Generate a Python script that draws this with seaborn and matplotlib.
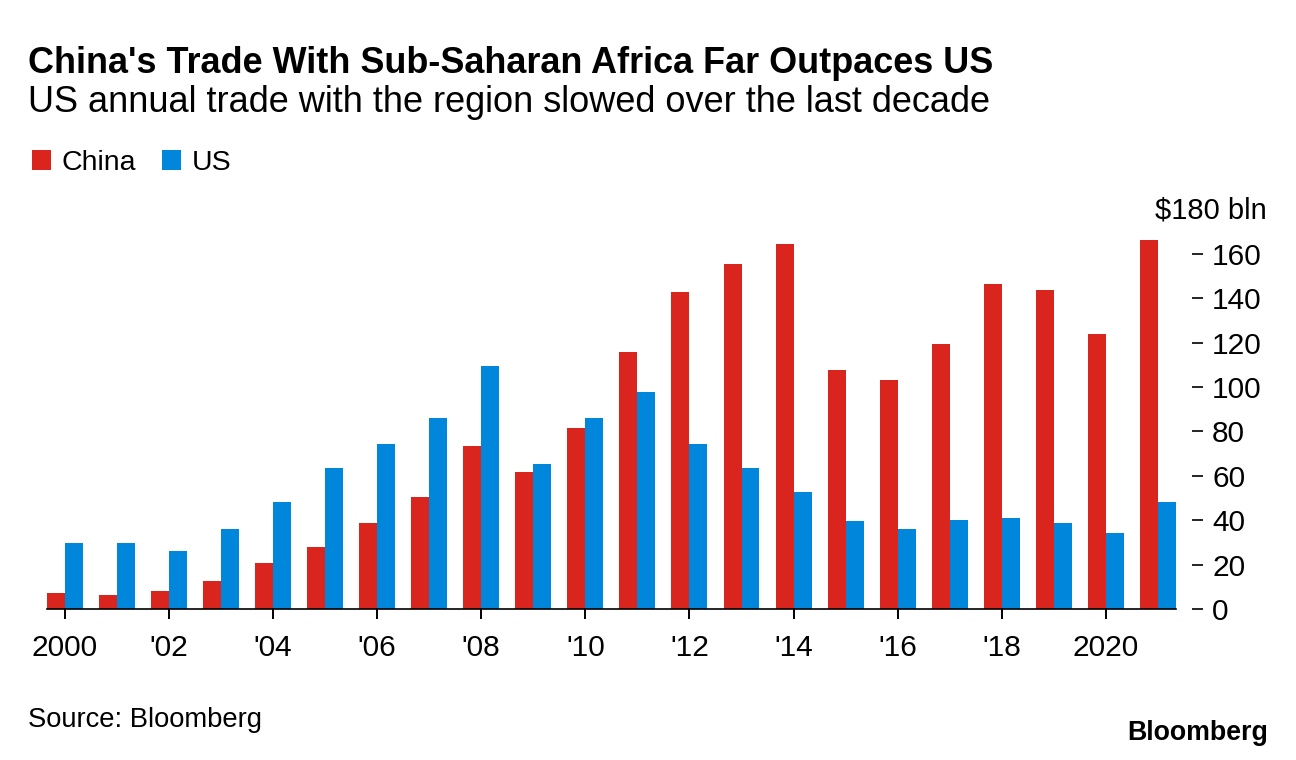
# =====================================================
# plot.py
# =====================================================

import pandas as pd
import matplotlib.pyplot as plt
import seaborn as sns


# ==========================
# Data ($ bln)
# ==========================

years = list(range(2000, 2022))

china = [7.1, 6.2, 8.0, 12.5, 20.6, 27.8, 38.6, 50.3, 73.6, 61.9, 81.7,
         115.8, 142.8, 155.4, 164.4, 107.7, 103.2, 119.4, 146.2, 143.7,
         123.9, 166.2]

us = [29.6, 29.6, 26.0, 35.9, 48.3, 63.6, 74.5, 86.2, 109.6, 65.5, 86.2,
      97.9, 74.5, 63.6, 52.8, 39.5, 35.9, 40.2, 41.1, 38.6, 34.1, 48.3]

tick_years = list(range(2000, 2022, 2))
tick_labels = ["2000", "'02", "'04", "'06", "'08", "'10",
               "'12", "'14", "'16", "'18", "2020"]

y_ticks = [0, 20, 40, 60, 80, 100, 120, 140, 160]


# ==========================
# Frame
# ==========================

df = pd.DataFrame({
    "year": years * 2,
    "value": china + us,
    "country": ["China"] * len(years) + ["US"] * len(years),
})
df["year"] = df["year"].astype(str)

colors = {"China": "#DA251E", "US": "#0087DB"}


# ==========================
# Plot
# ==========================

sns.set_style("white")
plt.rcParams["font.family"] = ["Liberation Sans", "DejaVu Sans"]
plt.rcParams["text.color"] = "black"

fig = plt.figure(figsize=(12.96, 7.6), dpi=100)
ax = fig.add_axes([46.7 / 1296, 151 / 760, (1176 - 46.7) / 1296, 377.5 / 760])

sns.barplot(
    data=df,
    x="year",
    y="value",
    hue="country",
    palette=colors,
    width=0.69,
    gap=0,
    saturation=1,
    linewidth=0,
    edgecolor="none",
    ax=ax,
)

ax.set_xlim(-0.345, len(years) - 1 + 0.345)
ax.set_ylim(0, 170)

ax.set_xticks([y - 2000 for y in tick_years])
ax.set_xticklabels(tick_labels)
ax.set_xlabel("")
ax.set_ylabel("")

ax.yaxis.tick_right()
ax.set_yticks(y_ticks)
ax.set_yticklabels([str(v) for v in y_ticks])

for side in ["top", "left"]:
    ax.spines[side].set_visible(False)

ax.spines["right"].set_position(("outward", 11.5))
ax.spines["right"].set_color("none")

ax.spines["bottom"].set_color("black")
ax.spines["bottom"].set_linewidth(1.2)

ax.tick_params(axis="x", length=7, width=1.4, color="black",
               pad=11, labelsize=21.5, labelcolor="black", bottom=True)
ax.tick_params(axis="y", length=8, width=1.2, color="black",
               pad=6.5, labelsize=21.5, labelcolor="black", right=True)

ax.grid(False)


# --------------------------
# Legend
# --------------------------

handles, labels = ax.get_legend_handles_labels()
ax.legend_.remove()
fig.legend(
    handles,
    labels,
    loc="center left",
    bbox_to_anchor=(32 / 1296, 0.7855),
    ncol=2,
    frameon=False,
    fontsize=20.5,
    handlelength=0.68,
    handleheight=0.68,
    handletextpad=0.36,
    columnspacing=0.9,
    borderpad=0,
    borderaxespad=0,
)


# --------------------------
# Texts
# --------------------------

fig.text(28 / 1296, 0.904, "China's Trade With Sub-Saharan Africa Far Outpaces US",
         fontsize=25.9, fontweight="bold", va="baseline", ha="left")

fig.text(28 / 1296, 0.8526, "US annual trade with the region slowed over the last decade",
         fontsize=26, va="baseline", ha="left")

fig.text(1267 / 1296, 0.712, "$180 bln",
         fontsize=21, va="baseline", ha="right")

fig.text(28 / 1296, 1 - 727 / 760, "Source: Bloomberg",
         fontsize=19.7, va="baseline", ha="left")

fig.text(1268 / 1296, 1 - 740 / 760, "Bloomberg",
         fontsize=19.3, fontweight="bold", va="baseline", ha="right")

fig.savefig("out.png", dpi=100)
